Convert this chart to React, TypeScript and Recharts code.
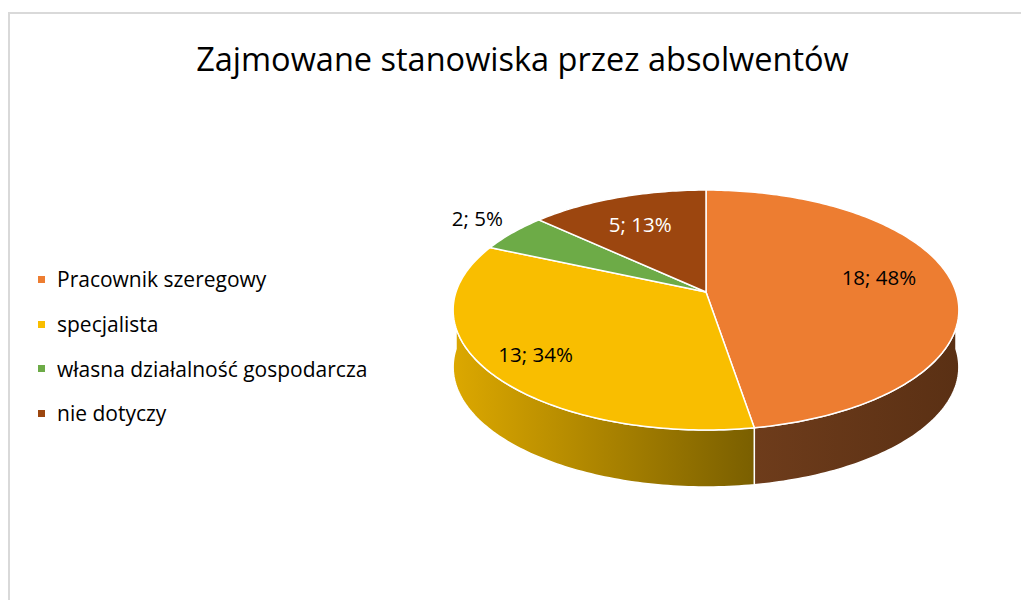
import { PieChart, Pie, Cell, Legend } from "recharts";

const categories = [
  "Pracownik szeregowy",
  "specjalista",
  "własna działalność gospodarcza",
  "nie dotyczy",
];
const counts = [18, 13, 2, 5];
const percentLabels = ["48%", "34%", "5%", "13%"];

const topColors = ["#ED7D31", "#F9BE00", "#6DAB47", "#9C460F"];
const wallFrom = ["#6e3c1b", "#dca800", "#4a7a30", "#6e3209"];
const wallTo = ["#5a3014", "#7a5f00", "#3c6426", "#5a2a08"];
const labelColors = ["#000000", "#000000", "#000000", "#ffffff"];
const labelRadius = [0.7, 0.8, 1.2, 0.72];
const labelDy = [-8, 0, -4, 2];

const data = categories.map((name, i) => ({
  name,
  value: counts[i],
  pct: percentLabels[i],
}));

const FONT = "'Open Sans', sans-serif";
// perspective squash of the disc
const Y_RATIO = 0.469;
const PERSP = 0.15;
const DEPTH = 57;

function project(cx: number, cy: number, r: number, angle: number, f = 1) {
  const rad = (angle * Math.PI) / 180;
  const u = f * Math.cos(rad);
  const v = f * Math.sin(rad);
  const d = 1 + PERSP * v;
  return [cx + (r * u) / d, cy - (r * Y_RATIO * v) / d];
}

function arcPoints(cx: number, cy: number, r: number, from: number, to: number) {
  const steps = Math.max(2, Math.ceil(Math.abs(to - from)));
  const pts: number[][] = [];
  for (let i = 0; i <= steps; i++) {
    pts.push(project(cx, cy, r, from + ((to - from) * i) / steps));
  }
  return pts;
}

const toPath = (pts: number[][]) =>
  pts.map((p, i) => `${i === 0 ? "M" : "L"}${p[0].toFixed(2)},${p[1].toFixed(2)}`).join(" ");

function renderSlice(props: any) {
  const { cx, cy, outerRadius, startAngle, endAngle, midAngle, index } = props;
  const hi = Math.max(startAngle, endAngle);
  const lo = Math.min(startAngle, endAngle);

  // walls on the front half of the disc
  const walls: number[][][] = [];
  for (let k = -1; k <= 1; k++) {
    const a = Math.max(lo, -180 + 360 * k);
    const b = Math.min(hi, 360 * k);
    if (b - a > 0.01) {
      const top = arcPoints(cx, cy, outerRadius, b, a);
      const bottom = top.map((p) => [p[0], p[1] + DEPTH]).reverse();
      walls.push([...top, ...bottom]);
    }
  }

  const face = [[cx, cy], ...arcPoints(cx, cy, outerRadius, startAngle, endAngle)];
  const [lx, ly] = project(cx, cy, outerRadius, midAngle, labelRadius[index]);

  return (
    <g key={`slice-${index}`}>
      {walls.map((w, j) => {
        const xs = w.map((p) => p[0]);
        const id = `wall-${index}-${j}`;
        return (
          <g key={id}>
            <defs>
              <linearGradient
                id={id}
                gradientUnits="userSpaceOnUse"
                x1={Math.min(...xs)}
                x2={Math.max(...xs)}
                y1={0}
                y2={0}
              >
                <stop offset="0%" stopColor={wallFrom[index]} />
                <stop offset="100%" stopColor={wallTo[index]} />
              </linearGradient>
            </defs>
            <path d={toPath(w) + " Z"} fill={`url(#${id})`} stroke="#ffffff" strokeWidth={1.5} />
          </g>
        );
      })}
      <path d={toPath(face) + " Z"} fill={topColors[index]} stroke="#ffffff" strokeWidth={1.5} />
      <text
        x={lx}
        y={ly + labelDy[index]}
        textAnchor="middle"
        dominantBaseline="central"
        fill={labelColors[index]}
        fontSize={20.5}
        fontFamily={FONT}
      >
        {`${counts[index]}; ${percentLabels[index]}`}
      </text>
    </g>
  );
}

function LegendList() {
  return (
    <div style={{ fontFamily: FONT, fontSize: 21, color: "#000" }}>
      {categories.map((c, i) => (
        <div key={c} style={{ height: 44.7, display: "flex", alignItems: "center" }}>
          <span
            style={{
              width: 7,
              height: 7,
              background: topColors[i],
              display: "inline-block",
              marginRight: 12,
            }}
          />
          <span>{c}</span>
        </div>
      ))}
    </div>
  );
}

export default function App() {
  return (
    <div
      style={{
        position: "absolute",
        left: 0,
        top: 0,
        width: 1021,
        height: 600,
        background: "#ffffff",
        overflow: "hidden",
      }}
    >
      <div
        style={{
          position: "absolute",
          left: 8,
          top: 12,
          width: 1030,
          height: 600,
          borderLeft: "2px solid #d9d9d9",
          borderTop: "2px solid #d9d9d9",
        }}
      />
      <div
        style={{
          position: "absolute",
          left: 0,
          top: 36,
          width: 1045,
          textAlign: "center",
          fontFamily: FONT,
          fontSize: 32.5,
          color: "#000",
        }}
      >
        Zajmowane stanowiska przez absolwentów
      </div>
      <div style={{ position: "absolute", left: 0, top: 0 }}>
        <PieChart width={1021} height={600} margin={{ top: 0, right: 0, bottom: 0, left: 0 }}>
          <Pie
            data={data}
            dataKey="value"
            nameKey="name"
            cx={706}
            cy={292}
            outerRadius={250}
            startAngle={90}
            endAngle={-270}
            label={renderSlice}
            labelLine={false}
            isAnimationActive={false}
          >
            {data.map((d) => (
              <Cell key={d.name} fill="none" stroke="none" />
            ))}
          </Pie>
          <Legend
            layout="vertical"
            content={() => <LegendList />}
            wrapperStyle={{ position: "absolute", left: 38, top: 257, width: 400 }}
          />
        </PieChart>
      </div>
    </div>
  );
}
